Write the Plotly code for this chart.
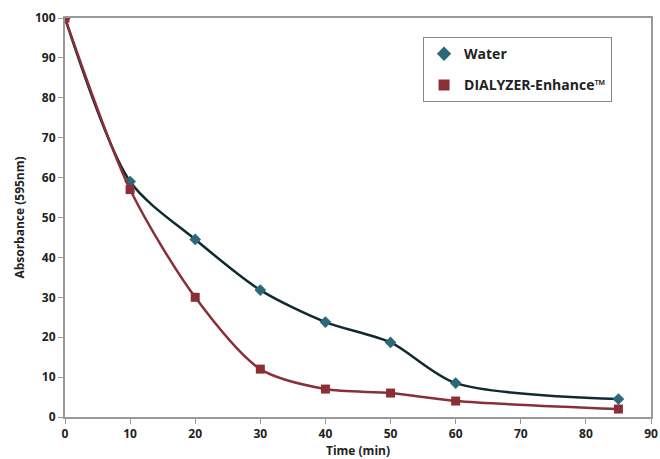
import plotly.graph_objects as go

time_min = [0, 10, 20, 30, 40, 50, 60, 85]
water = [100, 59, 44.5, 31.8, 23.8, 18.7, 8.5, 4.5]
dialyzer = [100, 57, 30, 12, 7, 6, 4, 2]

series = [
    ('Water', water, '#0f2a30', '#2b6878', 'diamond', 9),
    ('DIALYZER-Enhance™', dialyzer, '#8a2f38', '#8a2f38', 'square', 9),
]

fig = go.Figure()
for name, vals, line_c, mark_c, sym, size in series:
    # curve with markers, kept out of the legend
    fig.add_trace(go.Scatter(
        x=time_min, y=vals, name=name, mode='lines+markers', legendgroup=name,
        showlegend=False,
        line=dict(color=line_c, width=2.5, shape='spline', smoothing=0.8),
        marker=dict(symbol=sym, size=size, color=mark_c),
    ))
    # marker-only entry for the legend
    fig.add_trace(go.Scatter(
        x=[None], y=[None], name=name, mode='markers', legendgroup=name,
        marker=dict(symbol=sym, size=11, color=mark_c),
    ))

tick_font = dict(family='Open Sans', size=12, color='#222', weight='bold')
title_font = dict(family='Open Sans', size=12, color='#222')
fig.update_layout(
    width=660, height=459,
    margin=dict(l=65, r=9, t=18, b=42),
    paper_bgcolor='white', plot_bgcolor='white',
    font=dict(family='Open Sans', color='#222'),
    legend=dict(
        x=0.611, y=0.952, xanchor='left', yanchor='top',
        bordercolor='#888', borderwidth=1, bgcolor='white',
        font=dict(family='Open Sans', size=14, color='#222', weight='bold'),
        itemwidth=30, tracegroupgap=10,
    ),
    xaxis=dict(
        range=[0, 90], tickvals=list(range(0, 91, 10)),
        showgrid=False, zeroline=False, automargin=False,
        showline=True, linecolor='#999', linewidth=2, mirror=True,
        ticks='outside', ticklen=5, tickcolor='#999',
        tickfont=tick_font,
        title=dict(text='<b>Time (min)</b>', font=title_font, standoff=3),
    ),
    yaxis=dict(
        range=[0, 100], tickvals=list(range(0, 101, 10)),
        showgrid=False, zeroline=False, automargin=False,
        showline=True, linecolor='#999', linewidth=2, mirror=True,
        ticks='outside', ticklen=5, tickcolor='#999',
        tickfont=tick_font,
        title=dict(text='<b>Absorbance (595nm)</b>', font=title_font, standoff=8),
    ),
)

# drop the default body margin so the figure fills the window exactly
fig.write_html('out.html', config={'displayModeBar': False},
               post_script="document.body.style.margin='0';")
